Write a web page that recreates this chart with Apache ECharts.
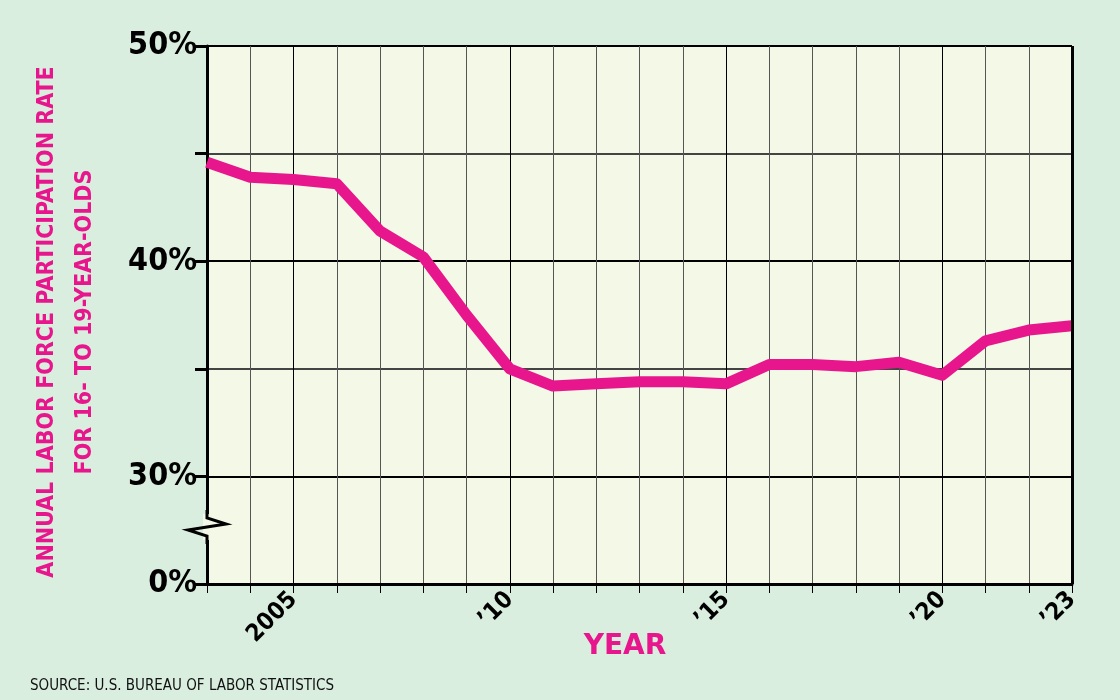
<!DOCTYPE html>
<html><head><meta charset="utf-8">
<script src="https://cdn.jsdelivr.net/npm/echarts@6/dist/echarts.min.js"></script>
<style>html,body{margin:0;padding:0;background:#daeedf}#c{width:1120px;height:700px}</style>
</head><body><div id="c"></div>
<script>
const years=[2003,2004,2005,2006,2007,2008,2009,2010,2011,2012,2013,2014,2015,2016,2017,2018,2019,2020,2021,2022,2023];
const rate=[44.6,43.9,43.8,43.6,41.4,40.2,37.5,35.0,34.2,34.3,34.4,34.4,34.3,35.2,35.2,35.1,35.3,34.7,36.3,36.8,37.0];
const xLabels={2005:'2005',2010:'\u201910',2015:'\u201915',2020:'\u201920',2023:'\u201923'};
const yLabels={25:'0%',30:'30%',40:'40%',50:'50%'};
const F='"DejaVu Sans Condensed","Liberation Sans Narrow",sans-serif';
const pink='#e8168c';
const chart=echarts.init(document.getElementById('c'));
chart.setOption({
 backgroundColor:'#daeedf',
 animation:false,
 grid:{left:207,right:48,top:46,bottom:116,show:true,backgroundColor:'#f3f8e7',borderWidth:0},
 xAxis:{type:'value',min:2003,max:2023,interval:1,
  axisLine:{show:true,lineStyle:{color:'#000',width:3}},
  axisTick:{show:true,length:9,lineStyle:{color:['#333','#333','#000','#333','#333'],width:1}},
  splitLine:{show:true,lineStyle:{color:['#555','#555','#000','#555','#555'],width:1}},
  axisLabel:{rotate:45,margin:12,fontFamily:F,fontWeight:'bold',fontSize:24,color:'#000',
   formatter:v=>xLabels[v]||'',showMinLabel:true,showMaxLabel:true}
 },
 yAxis:{type:'value',min:25,max:50,interval:5,
  axisLine:{show:true,lineStyle:{color:'#000',width:3}},
  axisTick:{show:true,length:12,lineStyle:{color:'#000',width:3}},
  splitLine:{show:true,lineStyle:{color:['#000','#000','#444','#000','#444','#000'],width:2}},
  axisLabel:{fontFamily:F,fontWeight:'bold',fontSize:32,color:'#000',margin:10,formatter:v=>yLabels[v]||''}
 },
 graphic:[
  {type:'rect',z:100,shape:{x:1071,y:46,width:3,height:538},style:{fill:'#000'}},
  {type:'rect',z:100,shape:{x:203,y:514,width:9,height:26},style:{fill:'#f3f8e7'}},
  {type:'polyline',z:101,shape:{points:[[207,510],[207,518],[226,524],[188,530],[207,536],[207,544]]},style:{stroke:'#000',lineWidth:3,fill:null}},
  {type:'text',x:66,y:322,rotation:Math.PI/2,style:{text:'ANNUAL LABOR FORCE PARTICIPATION RATE\nFOR 16- TO 19-YEAR-OLDS',align:'center',verticalAlign:'middle',fill:pink,font:'bold 23px '+F,lineHeight:38}},
  {type:'text',x:625,y:647,style:{text:'YEAR',align:'center',verticalAlign:'middle',fill:pink,font:'bold 28px "DejaVu Sans",sans-serif'}},
  {type:'text',x:30,y:686,style:{text:'SOURCE: U.S. BUREAU OF LABOR STATISTICS',align:'left',verticalAlign:'middle',fill:'#111',font:'15px '+F}}
 ],
 series:[{type:'line',data:years.map((y,i)=>[y,rate[i]]),showSymbol:false,lineStyle:{color:pink,width:11,join:'round'},z:5}]
});
</script></body></html>
